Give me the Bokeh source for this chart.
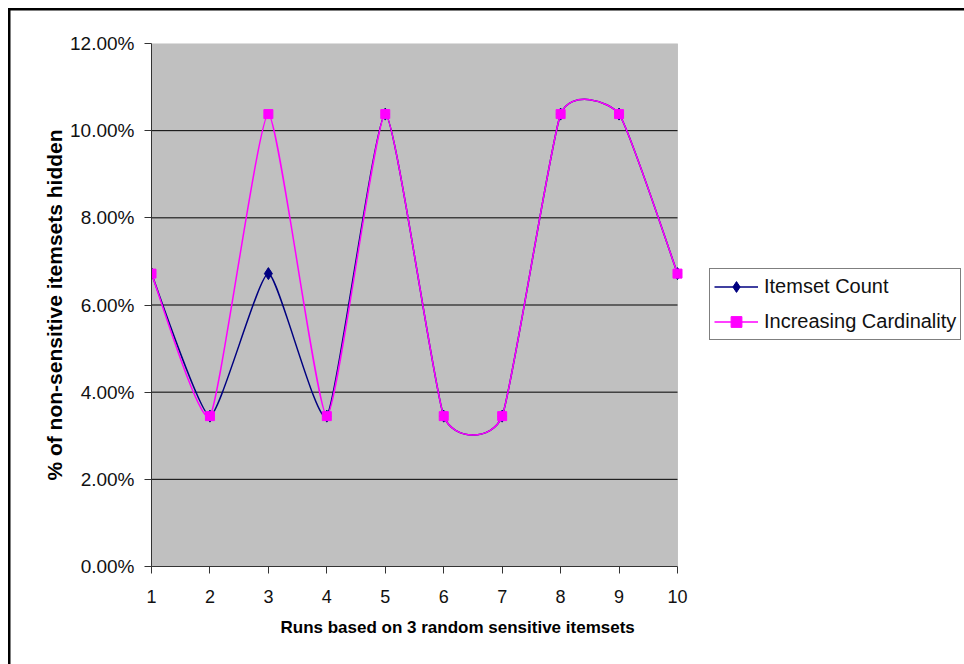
from bokeh.plotting import figure
from bokeh.models import (Range1d, FixedTicker, NumeralTickFormatter, Legend, LegendItem,
                          ColumnDataSource, BoxAnnotation, Title)
from bokeh.embed import file_html
from bokeh.resources import INLINE

# ---------------- data ----------------
runs = [1, 2, 3, 4, 5, 6, 7, 8, 9, 10]
itemset_count = [0.0672, 0.0345, 0.0672, 0.0345, 0.1038, 0.0345, 0.0345, 0.1038, 0.1038, 0.0672]
increasing_cardinality = [0.0672, 0.0345, 0.1038, 0.0345, 0.1038, 0.0345, 0.0345, 0.1038, 0.1038, 0.0672]
series_names = ["Itemset Count", "Increasing Cardinality"]
y_ticks = [0.0, 0.02, 0.04, 0.06, 0.08, 0.10, 0.12]
x_title = "Runs based on 3 random sensitive itemsets"
y_title = "% of non-sensitive itemsets hidden"

TENSION = 1.0 / 12.0


def smooth_segments(xs, ys, k=TENSION):
    """Bezier control points for an Excel-like smoothed line through the data."""
    n = len(xs)
    x0, y0, x1, y1, cx0, cy0, cx1, cy1 = [], [], [], [], [], [], [], []
    for i in range(n - 1):
        pm = max(i - 1, 0)
        pn = min(i + 2, n - 1)
        tx0 = xs[i + 1] - xs[pm]
        ty0 = ys[i + 1] - ys[pm]
        tx1 = xs[pn] - xs[i]
        ty1 = ys[pn] - ys[i]
        x0.append(xs[i]); y0.append(ys[i])
        x1.append(xs[i + 1]); y1.append(ys[i + 1])
        cx0.append(xs[i] + tx0 * k); cy0.append(ys[i] + ty0 * k)
        cx1.append(xs[i + 1] - tx1 * k); cy1.append(ys[i + 1] - ty1 * k)
    return dict(x0=x0, y0=y0, x1=x1, y1=y1, cx0=cx0, cy0=cy0, cx1=cx1, cy1=cy1)


# ---------------- layout (pixels) ----------------
W, H = 964, 664
PLOT_L, PLOT_R, PLOT_T, PLOT_B = 151, 677, 43, 566
LEG_L, LEG_B = 709, 340
XTITLE_L = 280

# the frame runs to the right edge so the legend can sit beside the plot area
x_end = runs[0] + (runs[-1] - runs[0]) * (W - PLOT_L) / (PLOT_R - PLOT_L)

p = figure(width=W, height=H, output_backend="svg", toolbar_location=None,
           x_range=Range1d(runs[0], x_end), y_range=Range1d(y_ticks[0], y_ticks[-1]),
           min_border_left=PLOT_L, min_border_right=0, min_border_top=PLOT_T,
           min_border_bottom=H - PLOT_B)

p.background_fill_color = "white"
p.border_fill_color = None
p.outline_line_color = None

# outer chart frame (top and left edges; the others lie outside the picture)
p.styles = {
    "background-color": "white",
    "background-image": "linear-gradient(black, black), linear-gradient(black, black)",
    "background-size": "100% 2.5px, 2.5px 100%",
    "background-position": "8px 8px, 8px 8px",
    "background-repeat": "no-repeat",
}

# grey plot area
plot_area = BoxAnnotation(left=runs[0], right=runs[-1], bottom=y_ticks[0], top=y_ticks[-1],
                          fill_color="#C0C0C0", fill_alpha=1, line_color="#808080",
                          line_width=1, level="image")
p.add_layout(plot_area)

# horizontal grid lines limited to the plot area
p.xgrid.visible = False
p.ygrid.visible = False
p.segment(x0=[runs[0]] * (len(y_ticks) - 2), x1=[runs[-1]] * (len(y_ticks) - 2),
          y0=y_ticks[1:-1], y1=y_ticks[1:-1], line_color="black", line_width=1)

FONT = "Liberation Sans"

# axes
p.yaxis.ticker = FixedTicker(ticks=y_ticks)
p.yaxis.formatter = NumeralTickFormatter(format="0.00%")
p.xaxis.ticker = FixedTicker(ticks=runs)
p.xaxis.bounds = (runs[0], runs[-1])
for ax in (p.xaxis[0], p.yaxis[0]):
    ax.axis_line_color = "#333333"
    ax.major_tick_line_color = "#333333"
    ax.major_tick_in = 0
    ax.major_tick_out = 7
    ax.minor_tick_line_color = None
    ax.major_label_text_font = FONT
    ax.major_label_text_color = "#111111"
    ax.axis_label_text_font = FONT
    ax.axis_label_text_font_style = "bold"
    ax.axis_label_text_color = "black"

p.yaxis.major_label_text_font_size = "19px"
p.xaxis.major_label_text_font_size = "18px"
p.yaxis.axis_label_text_font_size = "21px"

p.yaxis.axis_label = y_title
p.yaxis.major_label_standoff = 10
p.xaxis.major_label_standoff = 16
p.yaxis.axis_label_standoff = 1

# x axis title, placed under the plot area
xt = Title(text=x_title, align="left", offset=XTITLE_L - PLOT_L, text_font=FONT,
           text_font_size="17px", text_font_style="bold", text_color="black", standoff=21)
p.add_layout(xt, "below")

# series
src1 = ColumnDataSource(smooth_segments(runs, itemset_count))
src2 = ColumnDataSource(smooth_segments(runs, increasing_cardinality))

b1 = p.bezier(x0="x0", y0="y0", x1="x1", y1="y1", cx0="cx0", cy0="cy0", cx1="cx1", cy1="cy1",
              source=src1, line_color="#000080", line_width=1.5)
m1 = p.scatter(runs, itemset_count, marker="diamond", size=12, fill_color="#000080",
               line_color="#000080")
b2 = p.bezier(x0="x0", y0="y0", x1="x1", y1="y1", cx0="cx0", cy0="cy0", cx1="cx1", cy1="cy1",
              source=src2, line_color="#FF00FF", line_width=1.5)
m2 = p.scatter(runs, increasing_cardinality, marker="square", size=9, fill_color="#FF00FF",
               line_color="#FF00FF")

legend = Legend(items=[LegendItem(label=series_names[0], renderers=[b1, m1]),
                       LegendItem(label=series_names[1], renderers=[b2, m2])],
                location=(LEG_L - PLOT_L, PLOT_B - LEG_B))
legend.border_line_color = "black"
legend.border_line_width = 1
legend.background_fill_color = "white"
legend.background_fill_alpha = 1
legend.label_text_font = FONT
legend.label_text_font_size = "20px"
legend.label_text_color = "#111111"
legend.glyph_width = 44
legend.glyph_height = 27
legend.label_height = 27
legend.label_standoff = 6
legend.spacing = 8
legend.padding = 4
legend.margin = 0
p.add_layout(legend)

open("out.html", "w").write(file_html(p, INLINE))
